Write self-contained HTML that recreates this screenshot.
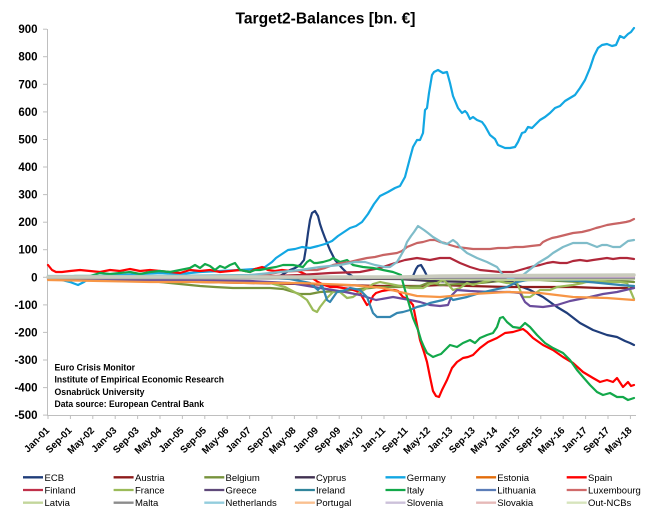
<!DOCTYPE html>
<html><head><meta charset="utf-8"><style>
html,body{margin:0;padding:0;background:#fff;}
svg{display:block;}
text{font-family:"Liberation Sans",Arial,sans-serif;}
</style></head><body>
<svg width="654" height="516" viewBox="0 0 654 516" xmlns="http://www.w3.org/2000/svg">
<rect width="654" height="516" fill="#fff"/>
<text x="235.5" y="23.5" font-size="15.5" font-weight="bold" fill="#000" textLength="180" lengthAdjust="spacingAndGlyphs">Target2-Balances [bn. €]</text>

<!-- axes -->
<line x1="47.5" y1="29" x2="47.5" y2="415.5" stroke="#bfbfbf" stroke-width="1"/>
<line x1="47" y1="415.5" x2="636" y2="415.5" stroke="#bfbfbf" stroke-width="1"/>
<g stroke="#bfbfbf" stroke-width="1">
<line x1="43" y1="29.2" x2="47" y2="29.2"/><line x1="43" y1="56.7" x2="47" y2="56.7"/><line x1="43" y1="84.3" x2="47" y2="84.3"/><line x1="43" y1="111.9" x2="47" y2="111.9"/><line x1="43" y1="139.5" x2="47" y2="139.5"/><line x1="43" y1="167" x2="47" y2="167"/><line x1="43" y1="194.6" x2="47" y2="194.6"/><line x1="43" y1="222.2" x2="47" y2="222.2"/><line x1="43" y1="249.7" x2="47" y2="249.7"/><line x1="43" y1="277.3" x2="47" y2="277.3"/><line x1="43" y1="304.9" x2="47" y2="304.9"/><line x1="43" y1="332.4" x2="47" y2="332.4"/><line x1="43" y1="360" x2="47" y2="360"/><line x1="43" y1="387.6" x2="47" y2="387.6"/><line x1="43" y1="415.1" x2="47" y2="415.1"/>
</g>
<g font-size="11.5" font-weight="bold" fill="#000" text-anchor="end">
<text x="37.5" y="33.2">900</text><text x="37.5" y="60.7">800</text><text x="37.5" y="88.3">700</text><text x="37.5" y="115.9">600</text><text x="37.5" y="143.5">500</text><text x="37.5" y="171">400</text><text x="37.5" y="198.6">300</text><text x="37.5" y="226.2">200</text><text x="37.5" y="253.7">100</text><text x="37.5" y="281.3">0</text><text x="37.5" y="308.9">-100</text><text x="37.5" y="336.4">-200</text><text x="37.5" y="364">-300</text><text x="37.5" y="391.6">-400</text><text x="37.5" y="419.1">-500</text>
</g>
<g stroke="#bfbfbf" stroke-width="1">
<line x1="48" y1="415" x2="48" y2="419"/><line x1="70.4" y1="415" x2="70.4" y2="419"/><line x1="92.8" y1="415" x2="92.8" y2="419"/><line x1="115.2" y1="415" x2="115.2" y2="419"/><line x1="137.6" y1="415" x2="137.6" y2="419"/><line x1="160" y1="415" x2="160" y2="419"/><line x1="182.4" y1="415" x2="182.4" y2="419"/><line x1="204.8" y1="415" x2="204.8" y2="419"/><line x1="227.2" y1="415" x2="227.2" y2="419"/><line x1="249.6" y1="415" x2="249.6" y2="419"/><line x1="272" y1="415" x2="272" y2="419"/><line x1="294.4" y1="415" x2="294.4" y2="419"/><line x1="316.8" y1="415" x2="316.8" y2="419"/><line x1="339.2" y1="415" x2="339.2" y2="419"/><line x1="361.6" y1="415" x2="361.6" y2="419"/><line x1="384" y1="415" x2="384" y2="419"/><line x1="406.4" y1="415" x2="406.4" y2="419"/><line x1="428.8" y1="415" x2="428.8" y2="419"/><line x1="451.2" y1="415" x2="451.2" y2="419"/><line x1="473.6" y1="415" x2="473.6" y2="419"/><line x1="496" y1="415" x2="496" y2="419"/><line x1="518.4" y1="415" x2="518.4" y2="419"/><line x1="540.8" y1="415" x2="540.8" y2="419"/><line x1="563.2" y1="415" x2="563.2" y2="419"/><line x1="585.6" y1="415" x2="585.6" y2="419"/><line x1="608" y1="415" x2="608" y2="419"/><line x1="630.4" y1="415" x2="630.4" y2="419"/>
</g>
<g font-size="9.8" font-weight="bold" fill="#000" text-anchor="end">
<text transform="translate(50,431) rotate(-45)">Jan-01</text>
<text transform="translate(72.4,431) rotate(-45)">Sep-01</text>
<text transform="translate(94.8,431) rotate(-45)">May-02</text>
<text transform="translate(117.2,431) rotate(-45)">Jan-03</text>
<text transform="translate(139.6,431) rotate(-45)">Sep-03</text>
<text transform="translate(162,431) rotate(-45)">May-04</text>
<text transform="translate(184.4,431) rotate(-45)">Jan-05</text>
<text transform="translate(206.8,431) rotate(-45)">Sep-05</text>
<text transform="translate(229.2,431) rotate(-45)">May-06</text>
<text transform="translate(251.6,431) rotate(-45)">Jan-07</text>
<text transform="translate(274,431) rotate(-45)">Sep-07</text>
<text transform="translate(296.4,431) rotate(-45)">May-08</text>
<text transform="translate(318.8,431) rotate(-45)">Jan-09</text>
<text transform="translate(341.2,431) rotate(-45)">Sep-09</text>
<text transform="translate(363.6,431) rotate(-45)">May-10</text>
<text transform="translate(386,431) rotate(-45)">Jan-11</text>
<text transform="translate(408.4,431) rotate(-45)">Sep-11</text>
<text transform="translate(430.8,431) rotate(-45)">May-12</text>
<text transform="translate(453.2,431) rotate(-45)">Jan-13</text>
<text transform="translate(475.6,431) rotate(-45)">Sep-13</text>
<text transform="translate(498,431) rotate(-45)">May-14</text>
<text transform="translate(520.4,431) rotate(-45)">Jan-15</text>
<text transform="translate(542.8,431) rotate(-45)">Sep-15</text>
<text transform="translate(565.2,431) rotate(-45)">May-16</text>
<text transform="translate(587.6,431) rotate(-45)">Jan-17</text>
<text transform="translate(610,431) rotate(-45)">Sep-17</text>
<text transform="translate(632.4,431) rotate(-45)">May-18</text>
</g>

<!-- series -->
<g fill="none" stroke-width="2.2" stroke-linejoin="round" stroke-linecap="round">
<!-- ECB -->
<polyline stroke="#1f3d7a" points="48,277 100,277 150,278 200,278 250,277 280,276 290,270 295,268 300,265 304,260 306,248 308,233 310,220 312,213 315,211 318,216 320,224 322,230 325,238 330,250 335,260 342,268 347,273 357,279 370,279 390,278 405,278 410,277 413,276 416,269 418,266 421,265 424,270 427,276 430,278 450,278 480,279 500,280 510,281 517,285 530,290 543,297 557,307 567,313 580,323 593,330 607,335 617,337 625,341 630,343 634,345"/>
<!-- Austria -->
<polyline stroke="#8e1c1c" points="48,279 100,280 150,281 200,282 250,283 300,284 340,285 380,286 420,286 440,285 470,286 507,287 540,287 573,287 600,288 634,288"/>
<!-- Belgium -->
<polyline stroke="#77933c" points="48,277 80,278 110,279 130,278 150,281 170,283 190,285 200,286 215,287 233,288 250,288 270,288 283,289 300,294 310,294 320,292 340,291 360,289 380,287 400,287 420,286 430,282 440,285 460,284 480,283 500,281 520,280 540,280 560,281 580,282 600,282 620,281 634,282"/>
<!-- Cyprus -->
<polyline stroke="#403151" points="48,278 200,278 400,279 430,281 470,282 520,280 634,279"/>
<!-- Germany -->
<polyline stroke="#12a7e3" points="48,276 55,278 62,280 70,282 78,285 84,282 90,278 100,276 120,275 140,274 160,273 180,274 200,272 220,271 240,270 255,269 265,267 272,262 276,258 282,254 288,250 295,249 302,247 310,248 318,246 325,244 332,241 338,236 344,232 350,228 356,226 362,222 368,214 374,204 380,196 388,192 395,188 400,186 405,177 410,158 413,147 417,140 420,140 423,133 425,110 427,108 429,93 432,75 434,72 438,70 443,73 447,72 450,83 453,96 458,108 462,113 465,111 467,113 470,119 473,117 477,120 482,122 485,126 490,135 495,139 498,145 505,148 510,148 515,147 518,142 522,133 525,132 528,127 532,128 535,125 540,120 545,117 550,113 555,108 560,106 565,101 570,98 575,95 580,88 585,80 590,68 594,56 598,48 602,45 607,44 612,46 616,45 620,36 624,38 628,34 631,32 634,28"/>
<!-- Estonia -->
<polyline stroke="#e36c09" points="48,278 634,278"/>
<!-- Spain -->
<polyline stroke="#ff0000" points="48,265 52,270 56,272 62,272 70,271 80,270 90,271 100,272 110,270 120,271 130,269 140,271 150,270 160,271 170,272 180,273 190,270 200,271 210,270 220,272 230,271 240,270 250,272 255,269 262,267 268,270 275,271 282,270 290,271 298,271 305,274 312,278 318,282 324,285 330,287 337,287 343,288 350,289 356,291 360,293 364,300 367,305 370,303 373,296 376,293 382,291 388,290 394,290 398,291 403,297 408,299 413,305 416,320 420,340 424,352 427,362 430,377 433,391 436,396 439,397 442,390 447,380 452,368 457,362 463,358 468,357 473,355 480,348 488,342 497,338 505,333 513,332 523,329 527,332 533,338 543,345 553,350 563,357 573,363 583,372 593,378 600,382 607,380 613,382 617,378 623,387 628,382 631,386 634,385"/>
<!-- Finland -->
<polyline stroke="#b0283a" points="48,278 150,278 250,277 300,275 330,273 360,272 380,268 395,263 405,260 417,258 430,260 440,258 450,258 460,263 470,267 480,270 490,271 500,272 513,272 520,270 527,268 535,266 540,265 547,263 553,262 560,263 567,263 573,261 580,260 587,261 593,260 600,259 607,258 613,259 620,258 627,258 634,259"/>
<!-- France -->
<polyline stroke="#9bbb59" points="48,278 100,279 150,280 200,281 250,282 270,283 285,287 300,295 307,300 313,310 317,312 320,307 327,298 333,292 340,292 347,298 353,297 360,292 367,288 373,284 380,282 390,284 400,286 410,288 423,288 430,284 437,283 443,280 447,283 453,290 460,288 467,283 473,285 483,282 493,280 507,283 517,283 523,297 530,297 540,290 550,290 557,287 573,285 583,283 593,280 607,282 620,282 627,283 631,292 634,299"/>
<!-- Greece -->
<polyline stroke="#6a4c9c" points="48,279 150,280 250,281 290,283 320,288 345,292 360,295 376,300 393,297 410,300 420,302 430,305 440,306 448,305 452,295 457,290 470,291 490,292 510,292 520,293 525,302 530,306 543,307 557,305 570,301 590,297 603,294 617,292 634,288"/>
<!-- Ireland -->
<polyline stroke="#3486b0" points="48,277 150,277 250,277 290,279 310,283 318,290 322,285 327,300 330,302 337,292 343,291 350,288 360,290 367,297 373,313 377,317 383,317 390,317 397,313 403,312 410,310 417,307 425,305 430,303 443,300 450,297 453,300 467,297 480,293 493,290 507,287 517,282 527,280 540,279 560,280 580,281 600,283 620,285 634,286"/>
<!-- Italy -->
<polyline stroke="#12a84a" points="48,277 60,277 75,276 90,276 100,273 110,274 120,273 130,272 140,274 150,272 160,271 170,272 180,270 190,268 195,265 200,268 205,264 210,266 215,270 220,266 225,268 230,265 235,263 240,270 245,271 250,272 255,270 260,270 265,269 270,268 276,267 283,265 293,265 303,267 307,262 310,260 314,263 317,263 323,262 330,260 333,258 340,262 347,260 353,265 363,267 373,268 383,270 393,272 401,275 403,283 407,297 413,318 418,330 421,340 424,347 427,353 433,357 438,355 441,354 445,350 450,345 457,347 463,343 470,340 475,343 480,338 487,335 493,333 497,327 500,318 503,317 507,322 513,327 520,328 525,323 530,327 537,335 545,343 553,348 563,353 570,360 577,370 583,377 590,385 597,392 603,395 610,393 617,397 623,397 628,400 634,398"/>
<!-- Lithuania -->
<polyline stroke="#5b7db8" points="48,278 634,278"/>
<!-- Luxembourg -->
<polyline stroke="#c86464" points="48,277 150,277 250,276 265,275 280,272 295,271 305,270 317,270 325,268 333,265 342,263 350,262 358,260 367,258 375,257 383,255 390,254 397,253 402,251 407,247 412,245 417,243 423,242 430,240 435,240 440,242 445,243 450,245 457,247 465,248 473,249 482,249 490,249 498,248 507,248 515,247 523,247 531,246 540,245 543,242 547,240 552,238 557,237 565,235 573,233 582,232 590,230 596,228 600,227 607,225 613,224 620,223 626,222 630,221 634,219"/>
<!-- Latvia -->
<polyline stroke="#c3d69b" points="48,278 400,278 440,279 520,280 634,279"/>
<!-- Malta -->
<polyline stroke="#8c8c8c" points="48,278 634,278"/>
<!-- Netherlands -->
<polyline stroke="#7fbcc9" points="48,276 150,276 250,275 280,272 300,270 320,267 340,265 355,262 365,262 375,265 385,267 390,267 397,262 400,257 404,250 407,242 411,236 414,232 418,226 421,228 424,230 428,233 433,237 438,240 443,243 447,244 453,240 457,243 460,247 467,253 477,258 487,262 497,267 503,275 508,278 513,278 518,276 523,275 528,271 533,267 538,263 543,260 548,257 553,253 558,250 563,247 568,245 573,243 580,243 587,243 592,245 597,247 602,245 607,245 613,247 620,247 624,244 628,241 634,240"/>
<!-- Portugal -->
<polyline stroke="#f79646" points="48,280 100,281 150,282 200,282 250,283 300,283 350,285 383,288 417,296 440,297 473,294 507,292 540,293 573,297 607,298 634,300"/>
<!-- Slovenia -->
<polyline stroke="#b3a2c7" points="48,277 634,277"/>
<!-- Slovakia -->
<polyline stroke="#e6b9b8" points="48,277 400,277 440,276 634,276"/>
<!-- Out-NCBs -->
<polyline stroke="#c9cbbd" stroke-width="3.5" points="48,277 400,277 440,276 634,275"/>
</g>

<!-- source text -->
<g font-size="9.2" font-weight="bold" fill="#000">
<text x="54.5" y="370.5" textLength="80.5" lengthAdjust="spacingAndGlyphs">Euro Crisis Monitor</text>
<text x="54.5" y="382.7" textLength="169.5" lengthAdjust="spacingAndGlyphs">Institute of Empirical Economic Research</text>
<text x="54.5" y="395" textLength="90" lengthAdjust="spacingAndGlyphs">Osnabrück University</text>
<text x="54.5" y="407" textLength="149.5" lengthAdjust="spacingAndGlyphs">Data source: European Central Bank</text>
</g>

<!-- legend -->
<g stroke-width="2.3" fill="none">
<line x1="23" y1="477.3" x2="43" y2="477.3" stroke="#1f3d7a"/>
<line x1="113.6" y1="477.3" x2="133.6" y2="477.3" stroke="#8e1c1c"/>
<line x1="204.3" y1="477.3" x2="224.3" y2="477.3" stroke="#77933c"/>
<line x1="294.9" y1="477.3" x2="314.9" y2="477.3" stroke="#403151"/>
<line x1="385.5" y1="477.3" x2="405.5" y2="477.3" stroke="#12a7e3"/>
<line x1="476.1" y1="477.3" x2="496.1" y2="477.3" stroke="#e36c09"/>
<line x1="566.7" y1="477.3" x2="586.7" y2="477.3" stroke="#ff0000"/>
<line x1="23" y1="490" x2="43" y2="490" stroke="#c0304a"/>
<line x1="113.6" y1="490" x2="133.6" y2="490" stroke="#9bbb59"/>
<line x1="204.3" y1="490" x2="224.3" y2="490" stroke="#5f497a"/>
<line x1="294.9" y1="490" x2="314.9" y2="490" stroke="#31859c"/>
<line x1="385.5" y1="490" x2="405.5" y2="490" stroke="#12a84a"/>
<line x1="476.1" y1="490" x2="496.1" y2="490" stroke="#5b7db8"/>
<line x1="566.7" y1="490" x2="586.7" y2="490" stroke="#d06a6a"/>
<line x1="23" y1="502.7" x2="43" y2="502.7" stroke="#c3d69b"/>
<line x1="113.6" y1="502.7" x2="133.6" y2="502.7" stroke="#8c8c8c"/>
<line x1="204.3" y1="502.7" x2="224.3" y2="502.7" stroke="#93cddd"/>
<line x1="294.9" y1="502.7" x2="314.9" y2="502.7" stroke="#fac090"/>
<line x1="385.5" y1="502.7" x2="405.5" y2="502.7" stroke="#ccc1da"/>
<line x1="476.1" y1="502.7" x2="496.1" y2="502.7" stroke="#e6b9b8"/>
<line x1="566.7" y1="502.7" x2="586.7" y2="502.7" stroke="#d7e4bd"/>
</g>
<g font-size="9.5" fill="#000">
<text x="44.5" y="480.8">ECB</text>
<text x="135" y="480.8">Austria</text>
<text x="225.5" y="480.8">Belgium</text>
<text x="316" y="480.8">Cyprus</text>
<text x="406.7" y="480.8">Germany</text>
<text x="497.3" y="480.8">Estonia</text>
<text x="588" y="480.8">Spain</text>
<text x="44.5" y="493.5">Finland</text>
<text x="135" y="493.5">France</text>
<text x="225.5" y="493.5">Greece</text>
<text x="316" y="493.5">Ireland</text>
<text x="406.7" y="493.5">Italy</text>
<text x="497.3" y="493.5">Lithuania</text>
<text x="588" y="493.5">Luxembourg</text>
<text x="44.5" y="506.2">Latvia</text>
<text x="135" y="506.2">Malta</text>
<text x="225.5" y="506.2">Netherlands</text>
<text x="316" y="506.2">Portugal</text>
<text x="406.7" y="506.2">Slovenia</text>
<text x="497.3" y="506.2">Slovakia</text>
<text x="588" y="506.2">Out-NCBs</text>
</g>
</svg>
</body></html>
